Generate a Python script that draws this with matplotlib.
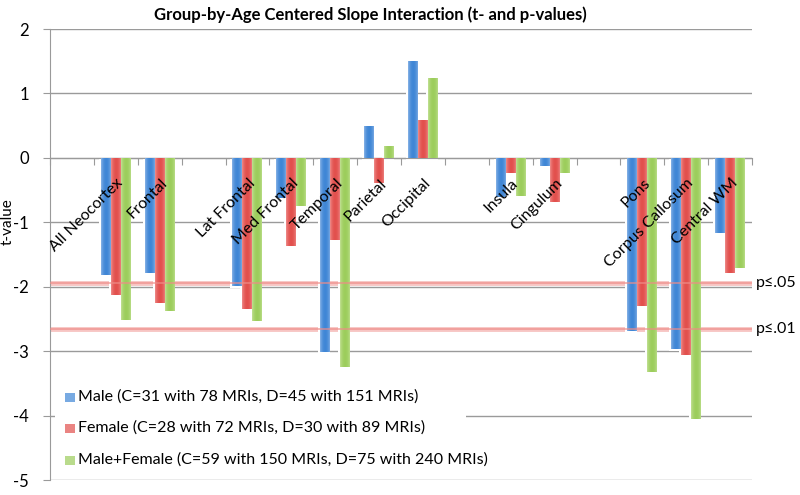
import numpy as np
import matplotlib
matplotlib.use("Agg")
import matplotlib.pyplot as plt
from matplotlib.patches import Rectangle
from matplotlib.colors import to_rgb

plt.rcParams['font.family'] = ['Lato', 'DejaVu Sans']

categories = ["", "All Neocortex", "Frontal", "", "Lat Frontal", "Med Frontal", "Temporal",
              "Parietal", "Occipital", "", "Insula", "Cingulum", "", "Pons",
              "Corpus Callosum", "Central WM"]
male = [np.nan, -1.82, -1.79, np.nan, -1.99, -0.62, -3.02, 0.49, 1.50, np.nan, -0.60, -0.12,
        np.nan, -2.68, -2.96, -1.17]
female = [np.nan, -2.13, -2.26, np.nan, -2.34, -1.37, -1.27, -0.39, 0.58, np.nan, -0.23, -0.68,
          np.nan, -2.30, -3.06, -1.79]
both = [np.nan, -2.52, -2.38, np.nan, -2.53, -0.75, -3.29, 0.18, 1.24, np.nan, -0.59, -0.24,
        np.nan, -3.32, -4.06, -1.71]
series_labels = ["Male (C=31 with 78 MRIs, D=45 with 151 MRIs)",
                 "Female (C=28 with 72 MRIs, D=30 with 89 MRIs)",
                 "Male+Female (C=59 with 150 MRIs, D=75 with 240 MRIs)"]
thresholds = [-1.94, -2.65]
threshold_labels = ["p\u2264.05", "p\u2264.01"]
title = "Group-by-Age Centered Slope Interaction (t- and p-values)"

dark_cols = ["#3f86d6", "#e2504d", "#9ccd5c"]
light_cols = ["#b3cdef", "#f5b0ae", "#d6ebb3"]

fig = plt.figure(figsize=(8, 4.95), dpi=100)
ax = fig.add_axes([50/800, 1-480/495, 702/800, 451/495])

n = len(categories)
x = np.arange(n)
bw = 0.227
offsets = [-bw, 0, bw]

N = 64
t = np.linspace(0, 1, N)
prof = np.clip(np.sin(np.pi * (t * 0.85 + 0.05)) ** 0.6, 0, 1)

def grad_img(c_light, c_dark):
    l = np.array(to_rgb(c_light)); d = np.array(to_rgb(c_dark))
    img = l[None, :] * (1 - prof[:, None]) + d[None, :] * prof[:, None]
    return img[None, :, :]

data = [male, female, both]
for si, vals in enumerate(data):
    for i, v in enumerate(vals):
        if np.isnan(v):
            continue
        x0 = x[i] + offsets[si] - bw / 2
        lo, hi = min(0, v), max(0, v)
        ax.add_patch(Rectangle((x0 - 0.05, lo - 0.035), bw + 0.05, hi - lo + 0.035,
                               facecolor="white", edgecolor="none", zorder=2))

for si, vals in enumerate(data):
    img = grad_img(light_cols[si], dark_cols[si])
    for i, v in enumerate(vals):
        if np.isnan(v):
            continue
        x0 = x[i] + offsets[si] - bw / 2
        lo, hi = min(0, v), max(0, v)
        rect = Rectangle((x0, lo), bw, hi - lo, facecolor="none", edgecolor="none", zorder=3)
        ax.add_patch(rect)
        im = ax.imshow(img, extent=[x0, x0 + bw, lo, hi], aspect="auto",
                       interpolation="bilinear", zorder=3)
        im.set_clip_path(rect)

for th in thresholds:
    ax.axhline(th, color="#f7c5c3", lw=3.5, zorder=1.5)
    ax.axhline(th, color="#ee8c88", lw=1.2, alpha=0.75, zorder=4)

ax.set_xlim(-0.5, n - 0.5)
ax.set_ylim(-5, 2)
ax.set_yticks(np.arange(-5, 3, 1))
ax.set_yticklabels([str(v) for v in range(-5, 3)], fontsize=12)
ax.yaxis.grid(True, color="#9a9a9a", lw=1.0, zorder=0)
ax.set_axisbelow(True)
ax.tick_params(axis="y", direction="out", length=5, color="#9a9a9a", pad=10)

ax.set_xticks(np.arange(n + 1) - 0.5)
ax.set_xticklabels([])
ax.tick_params(axis="x", direction="out", length=5, color="#9a9a9a")
ax.spines['bottom'].set_position(('data', 0))
ax.spines['bottom'].set_color("#9a9a9a")
ax.spines['left'].set_color("#9a9a9a")
ax.spines['top'].set_visible(False)
ax.spines['right'].set_visible(False)

for i, c in enumerate(categories):
    if c:
        ax.text(x[i] + 0.12, -0.36, c, rotation=45, rotation_mode="anchor",
                ha="right", va="center", fontsize=11.5, zorder=6)

for th, lab in zip(thresholds, threshold_labels):
    ax.text(1.006, th, lab, transform=ax.get_yaxis_transform(), ha="left", va="center",
            fontsize=11.5)

fig.text(370/800, 1-15/495, title, ha="center", va="center", fontsize=12, fontweight="bold")
fig.text(8/800, 1-222/495, "t-value", rotation=90, ha="center", va="center", fontsize=11)

ax.add_patch(Rectangle((0.007, 0.025), 0.585, 0.225, transform=ax.transAxes,
                       facecolor="white", edgecolor="none", zorder=5))
leg_y = [397, 428, 460]
for si, lab in enumerate(series_labels):
    yy = (480 - leg_y[si]) / 451
    ax.add_patch(Rectangle((15/702, yy - 0.011), 10/702, 0.02, transform=ax.transAxes,
                           facecolor=dark_cols[si], alpha=0.7, edgecolor="none", zorder=6))
    ax.text(28/702, yy, lab, transform=ax.transAxes, ha="left", va="center",
            fontsize=11.5, zorder=6)

fig.savefig("out.png", dpi=100)
